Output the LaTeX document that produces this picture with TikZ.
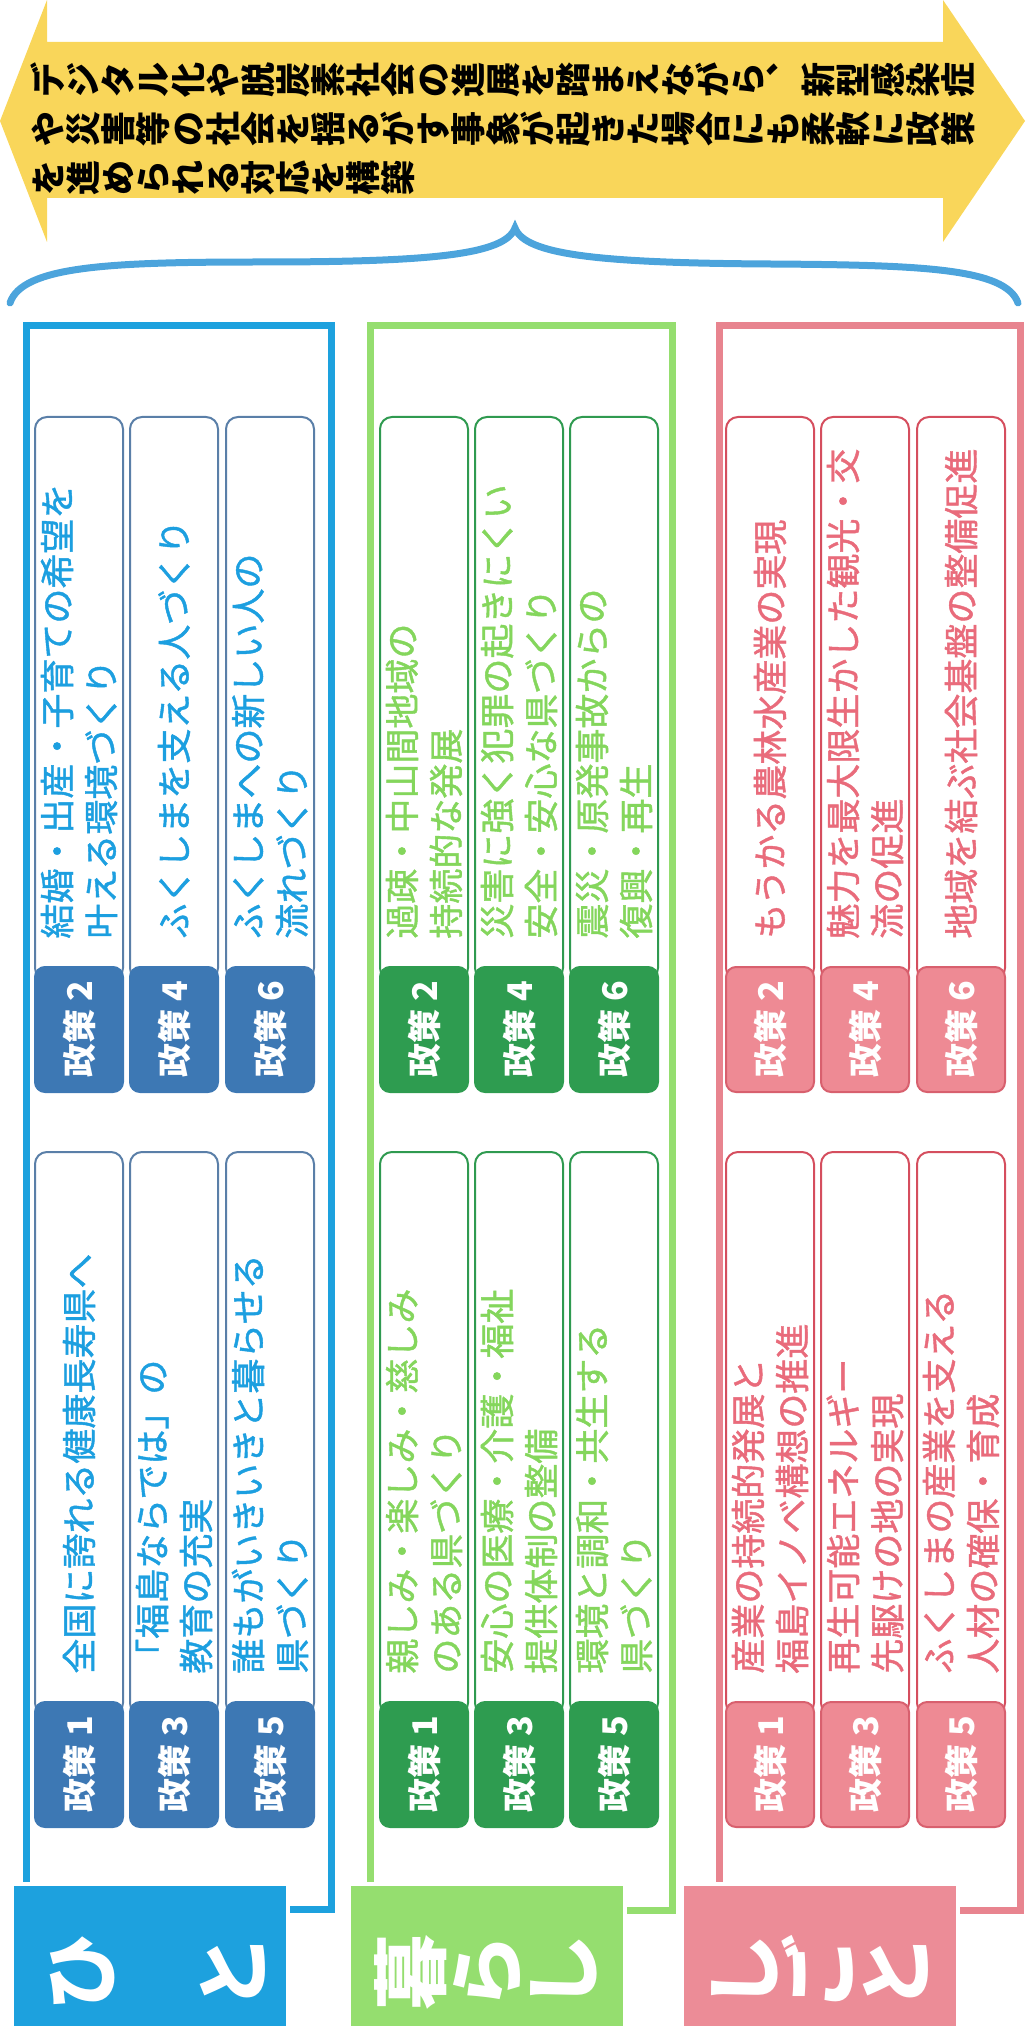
\documentclass[tikz,border=0pt]{standalone}
\usepackage{fontspec}
\usepackage{graphicx}
\newfontfamily\jp{Noto Sans CJK JP}
\newfontfamily\jpmid[FakeBold=1.2]{Noto Sans CJK JP}
\usetikzlibrary{positioning}

\definecolor{arrowyellow}{HTML}{F9D65A}
\definecolor{bracecol}{HTML}{4CA4DC}
\definecolor{hitoframe}{HTML}{1DA1DE}
\definecolor{hitotab}{HTML}{3D78B4}
\definecolor{hitoline}{HTML}{5A7FA8}
\definecolor{hitotext}{HTML}{1C9FE0}
\definecolor{kurashiframe}{HTML}{95DE6F}
\definecolor{kurashitab}{HTML}{2E9C50}
\definecolor{kurashiline}{HTML}{2F9A50}
\definecolor{kurashitext}{HTML}{84D65C}
\definecolor{shigotoframe}{HTML}{E8848F}
\definecolor{shigotofill}{HTML}{EC8C97}
\definecolor{shigototab}{HTML}{EE8A94}
\definecolor{shigototabline}{HTML}{D8606E}
\definecolor{shigotoline}{HTML}{D54E5E}
\definecolor{shigototext}{HTML}{E96B7B}

% one upright character of a vertical line, turned with the page
\newcommand\vchar[1]{\makebox[1em]{\rotatebox[origin=c]{90}{\rule[-0.12em]{0pt}{1em}#1}}}
\def\tateloop#1{\ifx\relax#1\else\vchar{#1}\expandafter\tateloop\fi}
\newcommand\tate[1]{\tateloop#1\relax}

\begin{document}
\begin{tikzpicture}[
  x=0.5pt, y=-0.5pt,
  card/.style={draw=#1, fill=white, line width=1pt, rounded corners=6pt, rotate=90, minimum width=281.5pt, minimum height=44pt, inner sep=0pt},
  tabbox/.style 2 args={fill=#1, draw=#2, line width=1pt, rounded corners=5pt, rotate=90, minimum width=62.5pt, minimum height=44pt, inner sep=0pt, text=white, font=\jp\bfseries\fontsize{17}{17}\selectfont},
  ptext/.style={text=#1, rotate=90, anchor=west, align=left, inner sep=0pt, font=\jpmid\fontsize{17.5}{22}\selectfont},
  themeframe/.style={draw=#1, line width=3.5pt},
  themebox/.style={fill=#1, draw=white, line width=2pt, minimum width=138pt, minimum height=72pt, inner sep=0pt},
  themename/.style={text=white, inner sep=0pt, font=\jp\bfseries\fontsize{38}{38}\selectfont},
  outlook/.style={align=left, inner sep=0pt, font=\jp\bfseries\fontsize{17.5}{24.5}\selectfont}
]
  \useasboundingbox (0,0) rectangle (1025,2032);

  % double arrow and brace
  \fill[arrowyellow] (0,121) -- (47,0) -- (47,42) -- (943,42) -- (943,0) -- (1025,121)
    -- (943,242) -- (943,198) -- (47,198) -- (47,242) -- cycle;
  \node[outlook, anchor=north west] (outlook) at (30,62)
    {\tate{デジタル化や脱炭素社会の進展を踏まえながら︑新型感染症}\\
     \tate{や災害等の社会を揺るがす事象が起きた場合にも柔軟に政策}\\
     \tate{を進められる対応を構築}};
  \draw[bracecol, line width=3.5pt, line cap=round] (10,303) .. controls (22,266) and (110,262) .. (260,262)
    .. controls (430,262) and (505,255) .. (515,228) .. controls (525,255) and (600,263) .. (770,264)
    .. controls (920,265) and (1006,268) .. (1018,303);

  % frames
  \draw[themeframe=hitoframe] (26,326) rectangle (331,1909);
  \draw[themeframe=kurashiframe] (370,326) rectangle (672,1910);
  \draw[themeframe=shigotoframe] (719,326) rectangle (1020,1910);

  % hito
  \foreach \n/\cx/\cy/\txt in {1/79/1433.5/{全国に誇れる健康長寿県へ},
      2/79/698.5/{結婚・出産・子育ての希望を\\叶える環境づくり},
      3/174/1433.5/{「福島ならでは」の\\教育の充実},
      4/174/698.5/{ふくしまを支える人づくり},
      5/270/1433.5/{誰もがいきいきと暮らせる\\県づくり},
      6/270/698.5/{ふくしまへの新しい人の\\流れづくり}}{
    \node[card=hitoline] (hito\n) at (\cx,\cy) {};
    \node[tabbox={hitotab}{hitotab}, anchor=east] (hitotab\n) at ([yshift=7.5pt]hito\n.west) {政策 \n};
    \node[ptext=hitotext] (hitotxt\n) at ([yshift=21pt]hito\n.west) {\txt};
  }

  % kurashi
  \foreach \n/\cx/\cy/\txt in {1/424/1433.5/{親しみ・楽しみ・慈しみ\\のある県づくり},
      2/424/698.5/{過疎・中山間地域の\\持続的な発展},
      3/519/1433.5/{安心の医療・介護・福祉\\提供体制の整備},
      4/519/698.5/{災害に強く犯罪の起きにくい\\安全・安心な県づくり},
      5/614/1433.5/{環境と調和・共生する\\県づくり},
      6/614/698.5/{震災・原発事故からの\\復興・再生}}{
    \node[card=kurashiline] (kurashi\n) at (\cx,\cy) {};
    \node[tabbox={kurashitab}{kurashitab}, anchor=east] (kurashitab\n) at ([yshift=7.5pt]kurashi\n.west) {政策 \n};
    \node[ptext=kurashitext] (kurashitxt\n) at ([yshift=21pt]kurashi\n.west) {\txt};
  }

  % shigoto
  \foreach \n/\cx/\cy/\txt in {1/770/1433.5/{産業の持続的発展と\\福島イノベ構想の推進},
      2/770/698.5/{もうかる農林水産業の実現},
      3/865/1433.5/{再生可能エネルギー\\先駆けの地の実現},
      4/865/698.5/{魅力を最大限生かした観光・交\\流の促進},
      5/961/1433.5/{ふくしまの産業を支える\\人材の確保・育成},
      6/961/698.5/{地域を結ぶ社会基盤の整備促進}}{
    \node[card=shigotoline] (shigoto\n) at (\cx,\cy) {};
    \node[tabbox={shigototab}{shigototabline}, anchor=east] (shigototab\n) at ([yshift=7.5pt]shigoto\n.west) {政策 \n};
    \node[ptext=shigototext] (shigototxt\n) at ([yshift=21pt]shigoto\n.west) {\txt};
  }

  % theme labels
  \node[themebox=hitoframe] (hitobox) at (150,1956) {};
  \node[themename] (hitoname) at ([xshift=3.5pt, yshift=-8pt]hitobox.center) {\tate{ひ　と}};
  \node[themebox=kurashiframe] (kurashibox) at (487,1956) {};
  \node[themename] (kurashiname) at ([yshift=-8pt]kurashibox.center) {\tate{暮らし}};
  \node[themebox=shigotofill] (shigotobox) at (820,1956) {};
  \node[themename] (shigotoname) at ([yshift=-8pt]shigotobox.center) {\tate{しごと}};
\end{tikzpicture}
\end{document}
